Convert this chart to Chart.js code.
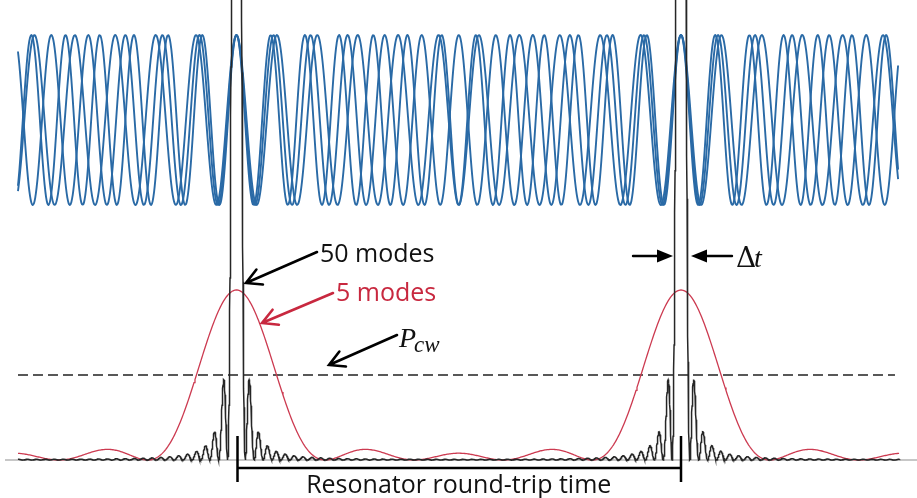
<!DOCTYPE html>
<html>
<head>
<meta charset="utf-8">
<script src="https://cdn.jsdelivr.net/npm/chart.js@4"></script>
<style>
  body { margin: 0; background: #fff; }
  canvas { display: block; }
</style>
</head>
<body>
<canvas id="modeChart" width="917" height="498"></canvas>
<script>
// time axis in units of the resonator round-trip time, pulses at t = 0 and t = 1
var pulseTimes = [0, 1];
var timeSpan = [-0.4916, 1.4927];   // where the curves start / stop
var fieldCycles = [11, 12, 13];     // cycles per round trip of each drawn mode field
var fieldCenter = 2.0;              // field traces sit above the intensity traces
var fieldAmplitude = 0.5;
var modeCounts = [5, 50];           // red curve, black curve
var modeGains = [1, 10];            // black curve drawn 10x (its peak is far off the top)
var pcwLevel = 0.5;                 // cw power level (dashed)

function sample(t0, t1, step, fn) {
    var pts = [];
    for (var t = t0; t <= t1 + 1e-9; t += step) {
        pts.push({x: t, y: fn(t)});
    }
    return pts;
}

// normalised intensity of N phase-locked modes
function lockedIntensity(n, gain) {
    return function (t) {
        var d = Math.sin(Math.PI * t);
        if (Math.abs(d) < 1e-9) return gain;
        var r = Math.sin(n * Math.PI * t) / (n * d);
        return gain * r * r;
    };
}

function modeField(cycles) {
    return function (t) {
        return fieldCenter + fieldAmplitude * Math.cos(2 * Math.PI * cycles * t);
    };
}

var ctx = document.getElementById('modeChart').getContext('2d');

var fieldSets = fieldCycles.map(function (c) {
    return {
        data: sample(timeSpan[0], timeSpan[1] - 0.0023, 0.003, modeField(c)),
        borderColor: '#2a6aa6',
        borderWidth: 1.9,
        tension: 0.35
    };
});

var annotations = {
    id: 'annotations',
    afterDatasetsDraw: function (chart) {
        var c = chart.ctx;
        var xs = chart.scales.x;
        var x0 = xs.getPixelForValue(pulseTimes[0]);
        var x1 = xs.getPixelForValue(pulseTimes[1]);

        function openArrow(ax, ay, bx, by, color) {
            var ang = Math.atan2(by - ay, bx - ax);
            c.strokeStyle = color;
            c.lineWidth = 2.6;
            c.lineCap = 'round';
            c.lineJoin = 'miter';
            c.beginPath();
            c.moveTo(ax, ay);
            c.lineTo(bx, by);
            c.moveTo(bx - 17 * Math.cos(ang - 0.5), by - 17 * Math.sin(ang - 0.5));
            c.lineTo(bx, by);
            c.lineTo(bx - 17 * Math.cos(ang + 0.5), by - 17 * Math.sin(ang + 0.5));
            c.stroke();
        }
        function solidArrow(ax, bx, y) {
            var dir = bx > ax ? 1 : -1;
            c.strokeStyle = '#000';
            c.fillStyle = '#000';
            c.lineWidth = 2.4;
            c.beginPath();
            c.moveTo(ax, y);
            c.lineTo(bx - dir * 10, y);
            c.stroke();
            c.beginPath();
            c.moveTo(bx, y);
            c.lineTo(bx - dir * 16, y - 6.5);
            c.lineTo(bx - dir * 16, y + 6.5);
            c.closePath();
            c.fill();
        }

        c.save();
        // round-trip bracket
        c.strokeStyle = '#000';
        c.lineWidth = 2.5;
        c.lineCap = 'butt';
        c.beginPath();
        c.moveTo(x0 + 1, 436); c.lineTo(x0 + 1, 482);
        c.moveTo(x1, 436); c.lineTo(x1, 482);
        c.moveTo(x0 + 1, 468); c.lineTo(x1, 468);
        c.stroke();

        openArrow(317, 252, 246, 283, '#000');
        openArrow(333, 293, 262, 323, '#c8283f');
        openArrow(397, 335, 329, 365, '#000');
        solidArrow(633, 673, 256);
        solidArrow(732, 691, 256);

        c.textBaseline = 'alphabetic';
        c.fillStyle = '#111';
        c.font = '25px "Open Sans"';
        c.fillText('50 modes', 320, 262);
        c.fillStyle = '#c8283f';
        c.fillText('5 modes', 336, 301);
        c.fillStyle = '#111';
        c.textAlign = 'center';
        c.fillText('Resonator round-trip time', (x0 + x1) / 2, 493);
        c.textAlign = 'left';

        c.font = 'italic 28px "Liberation Serif"';
        c.fillText('P', 399, 347);
        c.font = 'italic 23px "Liberation Serif"';
        c.fillText('cw', 414, 352);
        c.font = '28px "DejaVu Serif"';
        c.fillText('\u0394', 736, 267);
        c.font = 'italic 28px "Liberation Serif"';
        c.fillText('t', 754, 267);
        c.restore();
    }
};

var modeChart = new Chart(ctx, {
    type: 'line',
    data: {
        datasets: [
            {
                data: sample(timeSpan[0], timeSpan[1], 0.00045, lockedIntensity(modeCounts[1], modeGains[1])),
                borderColor: '#262626',
                borderWidth: 1.5
            },
            {
                data: sample(timeSpan[0], timeSpan[1], 0.0022, lockedIntensity(modeCounts[0], modeGains[0])),
                borderColor: '#cc3a50',
                borderWidth: 1.3
            }
        ].concat(fieldSets).concat([
            {
                data: [{x: timeSpan[0], y: pcwLevel}, {x: 1.4814, y: pcwLevel}],
                borderColor: '#222',
                borderWidth: 1.6,
                borderDash: [10, 5]
            },
            {
                data: [{x: -0.5208, y: 0}, {x: 1.54, y: 0}],
                borderColor: '#b4b4b4',
                borderWidth: 1.5
            }
        ])
    },
    options: {
        responsive: false,
        animation: false,
        devicePixelRatio: 1,
        events: [],
        parsing: false,
        normalized: true,
        layout: { padding: 0 },
        elements: {
            point: { radius: 0 },
            line: { tension: 0, fill: false }
        },
        plugins: {
            legend: { display: false },
            tooltip: { enabled: false },
            title: { display: false }
        },
        scales: {
            x: { type: 'linear', min: -0.53206, max: 1.53093, display: false },
            y: { type: 'linear', min: -0.22353, max: 2.70588, display: false }
        }
    },
    plugins: [annotations]
});
</script>
</body>
</html>
